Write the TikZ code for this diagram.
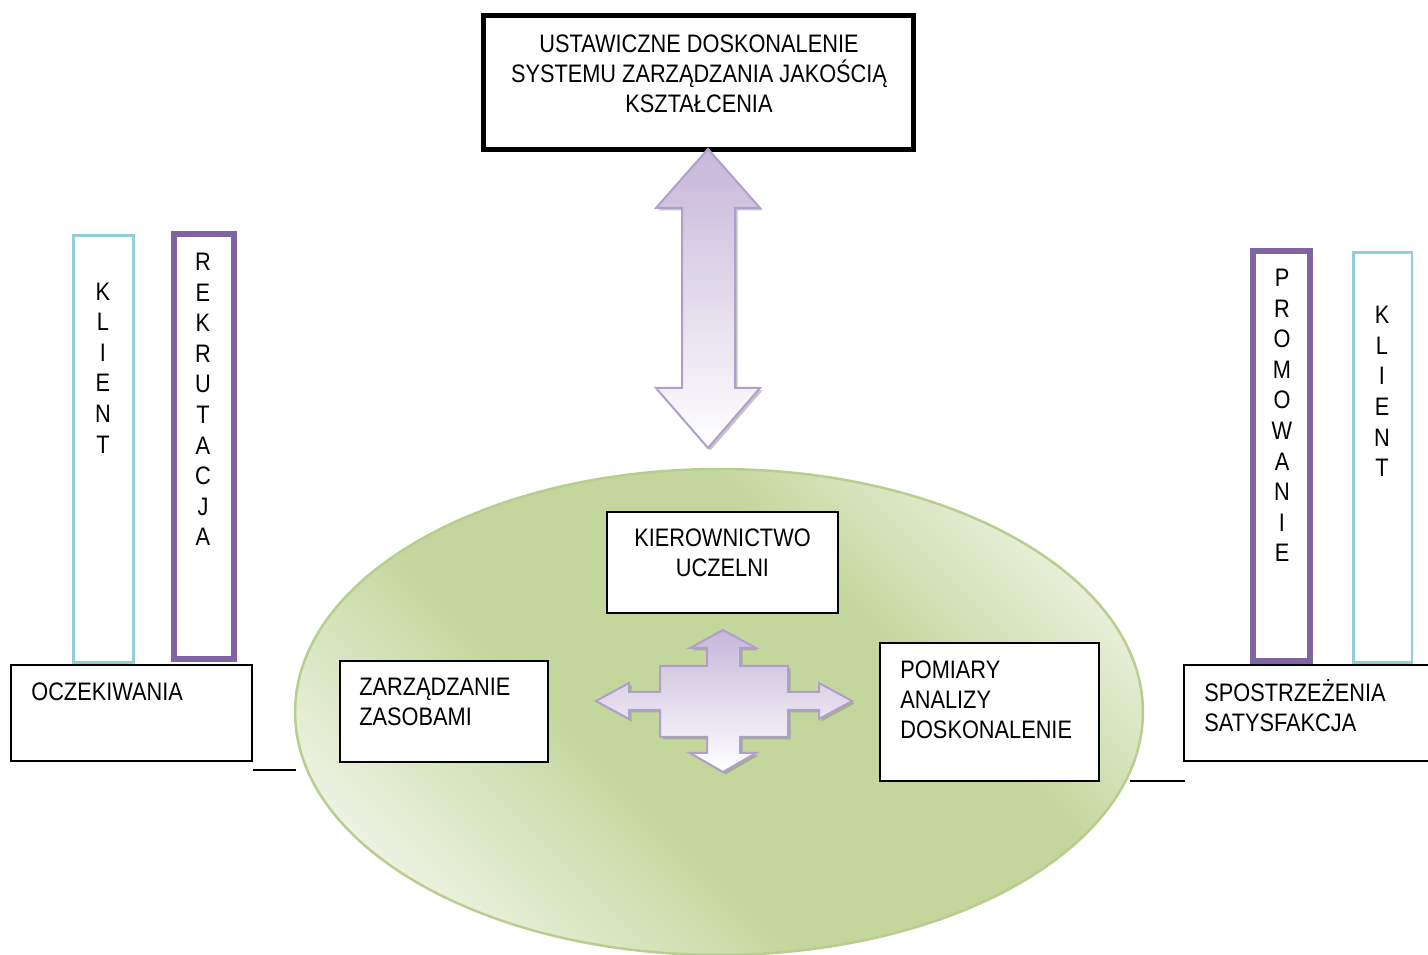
\documentclass[tikz,border=0pt]{standalone}
\usepackage{fontspec}
\setmainfont{Liberation Sans}[FakeStretch=0.86]
\usetikzlibrary{shapes.geometric,shadows}
\definecolor{klientblue}{HTML}{92CDDC}
\definecolor{rolepurple}{HTML}{8064A2}
\definecolor{lavtop}{HTML}{C5B7D9}
\definecolor{lavline}{HTML}{B09FCB}
\definecolor{greenmid}{HTML}{C3D69B}
\definecolor{greenlight}{HTML}{EDF2E2}
\definecolor{greenline}{HTML}{B8CE8E}
\pgfdeclarehorizontalshading{campusgreen}{100bp}{color(0bp)=(greenlight); color(24bp)=(greenlight); color(42bp)=(greenmid); color(62bp)=(greenmid); color(78bp)=(greenlight); color(100bp)=(greenlight)}
\tikzset{
  frame/.style={draw, line width=0.03cm, fill=white, inner sep=0pt},
  klientbox/.style={draw=klientblue, line width=0.05cm, fill=white},
  rolebox/.style={draw=rolepurple, line width=0.12cm, fill=white},
  txt/.style={inner sep=0pt, font=\fontsize{14.4}{17.1}\selectfont},
  letters/.style={inner sep=0pt, align=center, font=\fontsize{14.4}{17.4}\selectfont},
  blockarrow/.style={draw=lavline, line width=0.04cm, top color=lavtop, bottom color=white,
    drop shadow={shadow xshift=0.05cm, shadow yshift=-0.05cm, opacity=0.45}}
}

\begin{document}
\begin{tikzpicture}[x=0.02cm, y=-0.02cm]
\useasboundingbox (0,0) rectangle (1428,955);

% uczelnia
\node[ellipse, draw=greenline, line width=0.05cm, shade, shading=campusgreen, shading angle=45,
  minimum width=16.96cm, minimum height=9.72cm] (uczelnia) at (719,712) {};

% gora
\node[frame, line width=0.1cm, minimum width=8.6cm, minimum height=2.68cm] (ciagle) at (698.5,82.5) {};
\node[txt, align=center] (ciagletxt) at (699,74) {USTAWICZNE DOSKONALENIE\\SYSTEMU ZARZĄDZANIA JAKOŚCIĄ\\KSZTAŁCENIA};

\draw[blockarrow] (708,149) -- (760,208) -- (735,208) -- (735,388) -- (760,388) -- (708,448)
  -- (656,388) -- (682,388) -- (682,208) -- (656,208) -- cycle;

% srodek
\node[frame, minimum width=4.63cm, minimum height=2.03cm] (kier) at (722.5,562.5) {};
\node[txt, align=center] (kiertxt) at (722.5,552.5) {KIEROWNICTWO\\UCZELNI};

\node[frame, minimum width=4.17cm, minimum height=2.03cm] (zasoby) at (444,711.5) {};
\node[txt, align=left, anchor=west] (zasobytxt) at (359,702) {ZARZĄDZANIE\\ZASOBAMI};

\node[frame, minimum width=4.39cm, minimum height=2.77cm] (pomiary) at (989.5,712) {};
\node[txt, align=left, anchor=west] (pomiarytxt) at (900,699.5) {POMIARY\\ANALIZY\\DOSKONALENIE};

\draw[blockarrow] (723,630) -- (756,648) -- (740,648) -- (740,666) -- (788,666) -- (788,692)
  -- (819,692) -- (819,683) -- (852,701) -- (819,719) -- (819,710) -- (788,710) -- (788,737)
  -- (740,737) -- (740,753) -- (756,753) -- (723,772) -- (690,753) -- (707,753) -- (707,737)
  -- (660,737) -- (660,710) -- (629,710) -- (629,719) -- (596,701) -- (629,683) -- (629,692)
  -- (660,692) -- (660,666) -- (707,666) -- (707,648) -- (690,648) -- cycle;

% lewa strona
\node[klientbox, minimum width=1.21cm, minimum height=8.55cm] (klientl) at (103.5,449) {};
\node[letters] (klientltxt) at (103,368) {K\\L\\I\\E\\N\\T};
\node[rolebox, minimum width=1.2cm, minimum height=8.5cm] (rekrutacja) at (204,446.5) {};
\node[letters] (rekrutacjatxt) at (203,399.5) {R\\E\\K\\R\\U\\T\\A\\C\\J\\A};
\node[frame, minimum width=4.83cm, minimum height=1.93cm] (oczek) at (131.5,713) {};
\node[txt, anchor=west] (oczektxt) at (31,692) {OCZEKIWANIA};

% prawa strona
\node[rolebox, minimum width=1.14cm, minimum height=8.2cm] (promowanie) at (1281.5,456) {};
\node[letters] (promowanietxt) at (1282,415.5) {P\\R\\O\\M\\O\\W\\A\\N\\I\\E};
\node[klientbox, minimum width=1.17cm, minimum height=8.21cm] (klientp) at (1382.5,457.5) {};
\node[letters] (klientptxt) at (1382,391.5) {K\\L\\I\\E\\N\\T};
\node[frame, minimum width=5.11cm, minimum height=1.93cm] (spostrz) at (1311.5,713) {};
\node[txt, align=left, anchor=west] (spostrztxt) at (1204,706) {SPOSTRZEŻENIA\\SATYSFAKCJA};

% kreski
\coordinate (lewya) at (253,770);
\coordinate (lewyb) at (296,770);
\coordinate (prawya) at (1130,781);
\coordinate (prawyb) at (1185,781);
\draw[line width=0.03cm] (lewya) -- (lewyb);
\draw[line width=0.03cm] (prawya) -- (prawyb);
\end{tikzpicture}
\end{document}
